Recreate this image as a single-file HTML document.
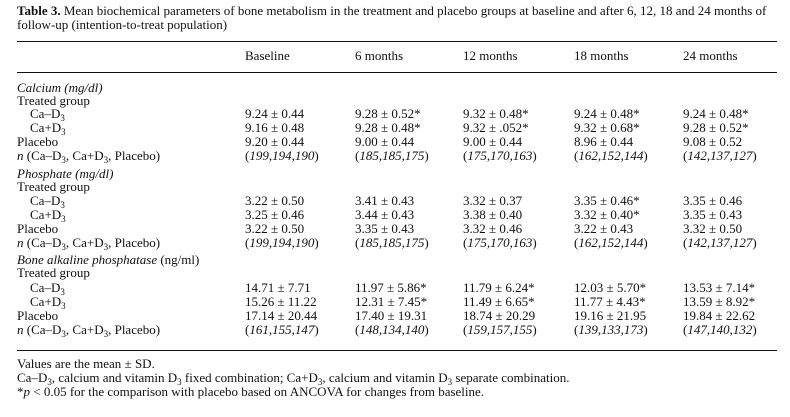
<!DOCTYPE html>
<html><head><style>
body{margin:0;width:790px;height:417px;background:#fff;position:relative;overflow:hidden;font-family:"Liberation Serif",serif;font-size:13px;color:#111}
div{position:absolute;line-height:14px;white-space:nowrap}
.r{position:absolute;left:17px;width:760px;height:0;border-top:1.3px solid #111}
i{font-style:italic}
sub{font-size:9px;vertical-align:-3px;line-height:0}
</style></head><body>
<div style="left:17px;top:4px"><b>Table 3.</b> Mean biochemical parameters of bone metabolism in the treatment and placebo groups at baseline and after 6, 12, 18 and 24 months of</div>
<div style="left:17px;top:18px">follow-up (intention-to-treat population)</div>
<span class="r" style="top:41px"></span>
<div style="left:245px;top:49px">Baseline</div>
<div style="left:355px;top:49px">6 months</div>
<div style="left:463px;top:49px">12 months</div>
<div style="left:574px;top:49px">18 months</div>
<div style="left:683px;top:49px">24 months</div>
<span class="r" style="top:72px"></span>

<div style="left:17px;top:81px"><i>Calcium (mg/dl)</i></div>
<div style="left:17px;top:94px">Treated group</div>
<div style="left:30px;top:107px">Ca–D<sub>3</sub></div>
<div style="left:30px;top:121px">Ca+D<sub>3</sub></div>
<div style="left:17px;top:135px">Placebo</div>
<div style="left:17px;top:149px"><i>n</i> (Ca–D<sub>3</sub>, Ca+D<sub>3</sub>, Placebo)</div>
<div style="left:245px;top:107px">9.24 ± 0.44</div><div style="left:355px;top:107px">9.28 ± 0.52*</div><div style="left:463px;top:107px">9.32 ± 0.48*</div><div style="left:574px;top:107px">9.24 ± 0.48*</div><div style="left:683px;top:107px">9.24 ± 0.48*</div>
<div style="left:245px;top:121px">9.16 ± 0.48</div><div style="left:355px;top:121px">9.28 ± 0.48*</div><div style="left:463px;top:121px">9.32 ± .052*</div><div style="left:574px;top:121px">9.32 ± 0.68*</div><div style="left:683px;top:121px">9.28 ± 0.52*</div>
<div style="left:245px;top:135px">9.20 ± 0.44</div><div style="left:355px;top:135px">9.00 ± 0.44</div><div style="left:463px;top:135px">9.00 ± 0.44</div><div style="left:574px;top:135px">8.96 ± 0.44</div><div style="left:683px;top:135px">9.08 ± 0.52</div>
<div style="left:245px;top:149px">(<i>199,194,190</i>)</div><div style="left:355px;top:149px">(<i>185,185,175</i>)</div><div style="left:463px;top:149px">(<i>175,170,163</i>)</div><div style="left:574px;top:149px">(<i>162,152,144</i>)</div><div style="left:683px;top:149px">(<i>142,137,127</i>)</div>

<div style="left:17px;top:167px"><i>Phosphate (mg/dl)</i></div>
<div style="left:17px;top:180px">Treated group</div>
<div style="left:30px;top:194px">Ca–D<sub>3</sub></div>
<div style="left:30px;top:208px">Ca+D<sub>3</sub></div>
<div style="left:17px;top:222px">Placebo</div>
<div style="left:17px;top:236px"><i>n</i> (Ca–D<sub>3</sub>, Ca+D<sub>3</sub>, Placebo)</div>
<div style="left:245px;top:194px">3.22 ± 0.50</div><div style="left:355px;top:194px">3.41 ± 0.43</div><div style="left:463px;top:194px">3.32 ± 0.37</div><div style="left:574px;top:194px">3.35 ± 0.46*</div><div style="left:683px;top:194px">3.35 ± 0.46</div>
<div style="left:245px;top:208px">3.25 ± 0.46</div><div style="left:355px;top:208px">3.44 ± 0.43</div><div style="left:463px;top:208px">3.38 ± 0.40</div><div style="left:574px;top:208px">3.32 ± 0.40*</div><div style="left:683px;top:208px">3.35 ± 0.43</div>
<div style="left:245px;top:222px">3.22 ± 0.50</div><div style="left:355px;top:222px">3.35 ± 0.43</div><div style="left:463px;top:222px">3.32 ± 0.46</div><div style="left:574px;top:222px">3.22 ± 0.43</div><div style="left:683px;top:222px">3.32 ± 0.50</div>
<div style="left:245px;top:236px">(<i>199,194,190</i>)</div><div style="left:355px;top:236px">(<i>185,185,175</i>)</div><div style="left:463px;top:236px">(<i>175,170,163</i>)</div><div style="left:574px;top:236px">(<i>162,152,144</i>)</div><div style="left:683px;top:236px">(<i>142,137,127</i>)</div>

<div style="left:17px;top:253px"><i>Bone alkaline phosphatase</i> (ng/ml)</div>
<div style="left:17px;top:266px">Treated group</div>
<div style="left:30px;top:281px">Ca–D<sub>3</sub></div>
<div style="left:30px;top:295px">Ca+D<sub>3</sub></div>
<div style="left:17px;top:309px">Placebo</div>
<div style="left:17px;top:323px"><i>n</i> (Ca–D<sub>3</sub>, Ca+D<sub>3</sub>, Placebo)</div>
<div style="left:245px;top:281px">14.71 ± 7.71</div><div style="left:355px;top:281px">11.97 ± 5.86*</div><div style="left:463px;top:281px">11.79 ± 6.24*</div><div style="left:574px;top:281px">12.03 ± 5.70*</div><div style="left:683px;top:281px">13.53 ± 7.14*</div>
<div style="left:245px;top:295px">15.26 ± 11.22</div><div style="left:355px;top:295px">12.31 ± 7.45*</div><div style="left:463px;top:295px">11.49 ± 6.65*</div><div style="left:574px;top:295px">11.77 ± 4.43*</div><div style="left:683px;top:295px">13.59 ± 8.92*</div>
<div style="left:245px;top:309px">17.14 ± 20.44</div><div style="left:355px;top:309px">17.40 ± 19.31</div><div style="left:463px;top:309px">18.74 ± 20.29</div><div style="left:574px;top:309px">19.16 ± 21.95</div><div style="left:683px;top:309px">19.84 ± 22.62</div>
<div style="left:245px;top:323px">(<i>161,155,147</i>)</div><div style="left:355px;top:323px">(<i>148,134,140</i>)</div><div style="left:463px;top:323px">(<i>159,157,155</i>)</div><div style="left:574px;top:323px">(<i>139,133,173</i>)</div><div style="left:683px;top:323px">(<i>147,140,132</i>)</div>

<span class="r" style="top:350px"></span>
<div style="left:17px;top:357px">Values are the mean ± SD.</div>
<div style="left:17px;top:371px">Ca–D<sub>3</sub>, calcium and vitamin D<sub>3</sub> fixed combination; Ca+D<sub>3</sub>, calcium and vitamin D<sub>3</sub> separate combination.</div>
<div style="left:17px;top:385px">*<i>p</i> &lt; 0.05 for the comparison with placebo based on ANCOVA for changes from baseline.</div>
</body></html>
